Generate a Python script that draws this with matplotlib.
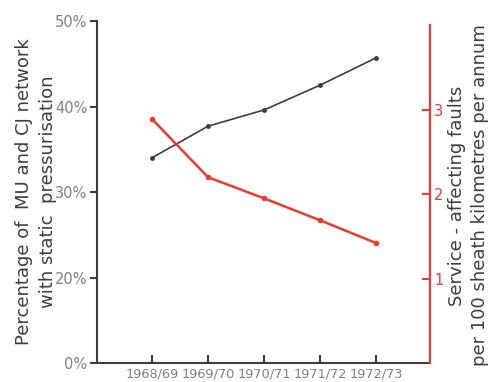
import matplotlib
matplotlib.use("Agg")
import matplotlib.pyplot as plt

# Data
years = ["1968/69", "1969/70", "1970/71", "1971/72", "1972/73"]
pct_pressurised = [34.0, 37.7, 39.6, 42.5, 45.7]   # left axis, %
faults = [2.89, 2.20, 1.95, 1.69, 1.42]            # right axis

# left axis is truncated: bottom tick sits at 10 but is labelled 0%
left_ticks = [10, 20, 30, 40, 50]
left_labels = ["0%", "20%", "30%", "40%", "50%"]
right_ticks = [1, 2, 3]

plt.rcParams['font.family'] = ['DejaVu Sans']

dark = "#3d3d3d"
grey = "#808080"
red = "#ee3a2a"

fig = plt.figure(figsize=(4.91, 3.82), dpi=100)
ax = fig.add_axes([0.1976, 0.0497, 0.6782, 0.8953])
ax2 = ax.twinx()

x = list(range(len(years)))

ax.plot(x, pct_pressurised, color=dark, lw=1.2, marker="o", ms=2.5)
ax2.plot(x, faults, color=red, lw=1.8, marker="o", ms=3)

ax.set_xlim(-0.98, 4.96)
ax.set_ylim(10, 50)
ax2.set_ylim(0, 4.05)

# spines
ax.spines["top"].set_visible(False)
ax2.spines["top"].set_visible(False)
ax.spines["right"].set_visible(False)
ax2.spines["left"].set_visible(False)
ax2.spines["bottom"].set_visible(False)
ax.spines["left"].set_color(dark)
ax.spines["bottom"].set_color(dark)
ax.spines["left"].set_linewidth(1.5)
ax.spines["bottom"].set_linewidth(1.5)
ax2.spines["right"].set_color(red)
ax2.spines["right"].set_linewidth(1.6)
ax2.spines["right"].set_bounds(0, 4)

ax.set_yticks(left_ticks)
ax.set_yticklabels(left_labels)
ax.tick_params(axis="y", direction="out", length=5, width=1.5, color=dark,
               labelcolor=grey, labelsize=10.5, pad=2)
ax.set_xticks(x)
ax.set_xticklabels(years)
ax.tick_params(axis="x", direction="in", length=6, width=1.5, color=dark,
               labelcolor=grey, labelsize=9.3, pad=3)

ax2.set_yticks(right_ticks)
ax2.tick_params(axis="y", direction="in", length=6, width=1.5, color=red,
                labelcolor=red, labelsize=10.5, pad=3)

ax.set_ylabel("Percentage of  MU and CJ network\nwith static  pressurisation",
              color=dark, fontsize=13, linespacing=1.45)
ax.yaxis.set_label_coords(-0.12, 0.5)
ax2.set_ylabel("Service - affecting faults\nper 100 sheath kilometres per annum",
               color=dark, fontsize=13, linespacing=1.35, rotation=90)
ax2.yaxis.set_label_coords(1.054, 0.49)

plt.savefig("out.png", dpi=100)
